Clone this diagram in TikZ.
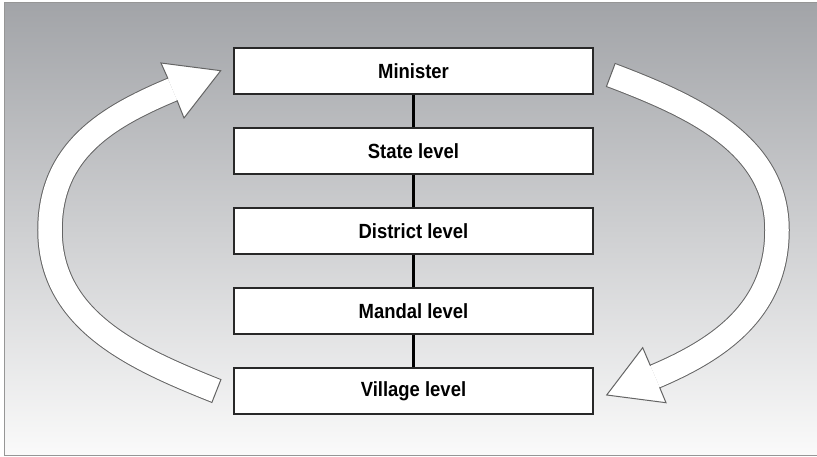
\documentclass[tikz,border=0pt]{standalone}
\usepackage{fontspec}
\setmainfont{Liberation Sans}[FakeStretch=0.9]
\definecolor{bgtop}{RGB}{162,164,168}
\definecolor{bgbot}{RGB}{250,250,250}
\definecolor{framegray}{RGB}{150,150,150}
\definecolor{arrowline}{RGB}{100,100,100}
\definecolor{boxline}{RGB}{40,40,40}
\begin{document}
\begin{tikzpicture}[x=1pt,y=-1pt,
  levelbox/.style={draw=boxline, line width=1.3pt, fill=white, minimum width=359pt, minimum height=46pt,
    inner sep=0pt, font=\fontsize{20.5}{23}\selectfont\bfseries},
  conn/.style={draw=black, line width=2.2pt},
  arrowshaft/.style={draw=arrowline, line width=1pt, double=white, double distance=23.5pt},
  arrowedge/.style={draw=arrowline, line width=1pt, line join=miter}]
\useasboundingbox (0,0) rectangle (817,457);
\fill[top color=bgtop, bottom color=bgbot] (4,3) rectangle (817,455);
\draw[framegray, line width=1pt] (817,3) -- (4,3) -- (4,455) -- (817,455);

% boxes
\node[levelbox] (min) at (413.5,71) {Minister};
\node[levelbox] (state) at (413.5,151) {State level};
\node[levelbox] (dist) at (413.5,231) {District level};
\node[levelbox] (mand) at (413.5,311) {Mandal level};
\node[levelbox] (vill) at (413.5,391) {Village level};
\draw[conn] (min) -- (state);
\draw[conn] (state) -- (dist);
\draw[conn] (dist) -- (mand);
\draw[conn] (mand) -- (vill);

% left arrow (upwards)
\coordinate (LT) at (216.4,391);
\coordinate (LL) at (50,230);
\coordinate (LB) at (172.5,89.5);
\draw[arrowshaft] (LT) .. controls (132.7,357.7) and (50,320) .. (LL) .. controls (50,150) and (108.1,116.5) .. (LB);
\fill[white] (220.7,70.7) -- (161,63) -- (168,78.7) -- (177,100.3) -- (184,118) -- cycle;
\draw[arrowedge] (168,78.7) -- (161,63) -- (220.7,70.7) -- (184,118) -- (177,100.3);
\draw[arrowedge] (211.7,402.9) -- (221.1,379.1);

% right arrow (downwards)
\coordinate (RT) at (610.8,75);
\coordinate (RR) at (777,230);
\coordinate (RB) at (655,376.5);
\draw[arrowshaft] (RT) .. controls (695.0,106.8) and (777,145) .. (RR) .. controls (777,310) and (719.4,349.2) .. (RB);
\fill[white] (606.7,395) -- (642.7,347.7) -- (650.4,365.7) -- (659.6,387.3) -- (666,402.7) -- cycle;
\draw[arrowedge] (650.4,365.7) -- (642.7,347.7) -- (606.7,395) -- (666,402.7) -- (659.6,387.3);
\draw[arrowedge] (606.3,86.9) -- (615.3,63.1);
\end{tikzpicture}
\end{document}
